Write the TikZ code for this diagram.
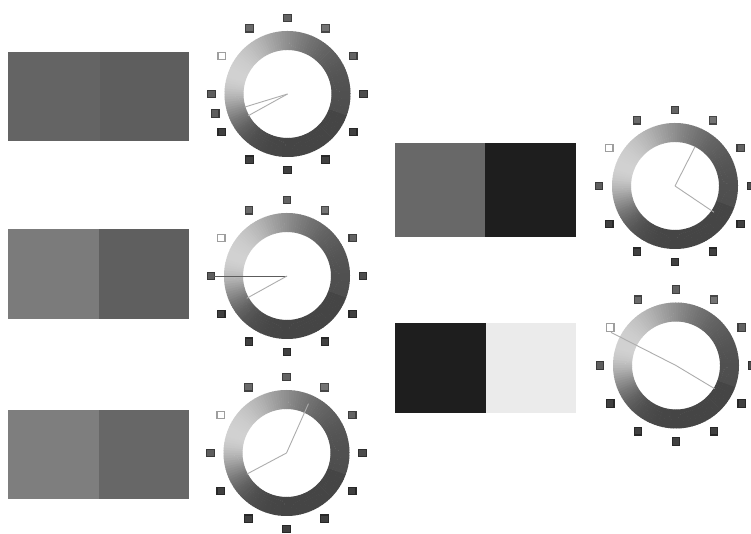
\documentclass[tikz,border=0pt]{standalone}
\usetikzlibrary{calc}

% swatch colours
\definecolor{sA1}{gray}{0.392}\definecolor{sB1}{gray}{0.369}
\definecolor{sA2}{gray}{0.482}\definecolor{sB2}{gray}{0.373}
\definecolor{sA3}{gray}{0.494}\definecolor{sB3}{gray}{0.404}
\definecolor{sA4}{gray}{0.408}\definecolor{sB4}{gray}{0.118}
\definecolor{sA5}{gray}{0.118}\definecolor{sB5}{gray}{0.922}
\definecolor{handlight}{gray}{0.68}
\definecolor{handdark}{gray}{0.36}

\tikzset{
  hand/.style={draw=handlight, line width=0.9pt},
  handstrong/.style={draw=handdark, line width=0.9pt},
  tick/.style={line width=1.3pt},
  % shaded ring with twelve clock marks
  dial/.pic={
    \foreach \a in {0,2.5,...,357.5}{
      \pgfmathsetmacro\dd{mod(\a-160+540,360)-180}
      \pgfmathsetmacro\gg{\dd>0 ? 0.27+0.55*exp(-(\dd/45)^2) : 0.30+0.52*exp(-(\dd/85)^2)}
      \pgfmathsetmacro\bb{\a+3}
      \definecolor{ringc}{gray}{\gg}
      \fill[ringc] (\a:44) arc[start angle=\a, end angle=\bb, radius=44]
        -- (\bb:63) arc[start angle=\bb, end angle=\a, radius=63] -- cycle;
    }
    \foreach \a in {0,30,...,330}{
      \pgfmathsetmacro\dd{mod(\a-150+540,360)-180}
      \pgfmathsetmacro\ss{min(1,0.25+0.75*exp(-(\dd/22)^2)+0.2*exp(-((\a-60)/50)^2))}
      \pgfmathsetmacro\tt{0.62*\ss}
      \definecolor{sqf}{gray}{\ss}
      \definecolor{sqd}{gray}{\tt}
      \draw[tick, fill=sqf, draw=sqd] (\a:76) ++(-3.8,-3.8) rectangle ++(7.6,7.6);
    }
  }
}

\begin{document}
\begin{tikzpicture}[x=1pt,y=1pt]
\useasboundingbox (0,0) rectangle (751,534);
\fill[white] (0,0) rectangle (751,534);

% colour swatches
\fill[sA1] (8,393) rectangle (100,482);  \fill[sB1] (100,393) rectangle (189,482);
\fill[sA2] (8,215) rectangle (99,305);   \fill[sB2] (99,215) rectangle (189,305);
\fill[sA3] (8,35) rectangle (99,124);    \fill[sB3] (99,35) rectangle (189,124);
\fill[sA4] (395,297) rectangle (485,391);\fill[sB4] (485,297) rectangle (576,391);
\fill[sA5] (395,121) rectangle (486,211);\fill[sB5] (486,121) rectangle (576,211);

% dial 1
\begin{scope}[shift={(287.5,440)}]
  \pic {dial};
  \definecolor{sqx}{gray}{0.36}\definecolor{sqy}{gray}{0.22}
  \draw[tick, fill=sqx, draw=sqy] (195:75) ++(-3.8,-3.8) rectangle ++(7.6,7.6);
  \draw[hand] (0,0) -- (197:45);
  \draw[hand] (0,0) -- (209:45);
\end{scope}

% dial 2
\begin{scope}[shift={(287,258)}]
  \pic {dial};
  \draw[handstrong] (0,0) -- (180:73);
  \draw[hand] (0,0) -- (209:46);
\end{scope}

% dial 3
\begin{scope}[shift={(286.5,81)}]
  \pic {dial};
  \draw[hand] (0,0) -- (66:54);
  \draw[hand] (0,0) -- (208:45);
\end{scope}

% dial 4
\begin{scope}[shift={(675,348)}]
  \pic {dial};
  \draw[hand] (0,0) -- (63:44);
  \draw[hand] (0,0) -- (-34:47);
\end{scope}

% dial 5
\begin{scope}[shift={(676,168.5)}]
  \pic {dial};
  \draw[hand] (153:73) -- (0,0) -- (-31:45);
\end{scope}
\end{tikzpicture}
\end{document}
